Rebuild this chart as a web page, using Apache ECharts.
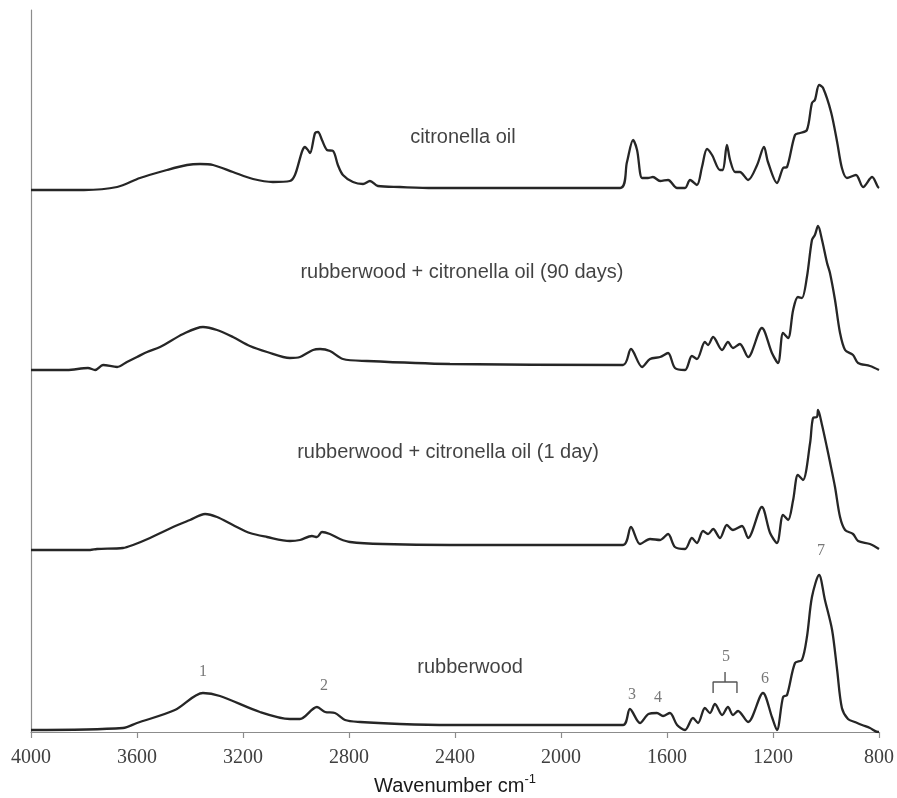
<!DOCTYPE html>
<html>
<head>
<meta charset="utf-8">
<script src="https://cdn.jsdelivr.net/npm/echarts@6/dist/echarts.min.js"></script>
<style>
  html, body { margin: 0; padding: 0; background: #fff; }
  #chart { width: 897px; height: 798px; }
</style>
</head>
<body>
<div id="chart"></div>
<script>
// ---- Data (absorbance, arbitrary units, spectra offset vertically) ----
const xTicks = [4000, 3600, 3200, 2800, 2400, 2000, 1600, 1200, 800];

const citronellaWn  = [4000,3800,3675,3589,3487,3411,3362,3313,3238,3162,3087,3023,3004,2966,2955,2947,2928,2917,2902,2883,2860,2842,2823,2785,2747,2721,2691,2608,2483,1777,1751,1728,1713,1694,1672,1653,1626,1596,1562,1532,1513,1487,1468,1449,1430,1400,1389,1374,1362,1343,1325,1294,1260,1234,1219,1185,1162,1147,1117,1098,1072,1053,1042,1026,1011,981,958,940,921,887,860,826,804,800];
const citronellaAbs = [5.42,5.42,5.45,5.54,5.62,5.67,5.68,5.67,5.60,5.53,5.50,5.51,5.57,5.85,5.82,5.79,5.99,6.00,5.92,5.82,5.81,5.67,5.57,5.50,5.48,5.51,5.46,5.45,5.44,5.44,5.70,5.92,5.82,5.54,5.54,5.55,5.51,5.52,5.44,5.44,5.52,5.47,5.65,5.83,5.77,5.62,5.62,5.87,5.72,5.60,5.60,5.52,5.67,5.85,5.70,5.49,5.64,5.65,5.97,5.99,6.02,6.29,6.32,6.47,6.44,6.20,5.90,5.64,5.54,5.57,5.45,5.55,5.45,5.44];

const rw90Wn  = [4000,3864,3785,3758,3728,3675,3638,3600,3562,3513,3426,3351,3298,3238,3174,3109,3023,2985,2936,2909,2872,2823,2732,2419,1766,1736,1694,1664,1626,1596,1570,1532,1506,1487,1457,1445,1426,1392,1370,1351,1325,1294,1242,1204,1181,1162,1143,1124,1106,1091,1072,1053,1042,1030,1015,996,985,966,947,928,898,879,834,800];
const rw90Abs = [3.62,3.62,3.64,3.62,3.67,3.65,3.70,3.75,3.80,3.85,3.98,4.05,4.02,3.95,3.86,3.80,3.74,3.75,3.82,3.83,3.81,3.73,3.71,3.68,3.67,3.83,3.65,3.73,3.75,3.79,3.64,3.62,3.76,3.73,3.90,3.87,3.95,3.82,3.90,3.84,3.88,3.75,4.04,3.79,3.69,3.99,3.94,4.22,4.35,4.34,4.55,4.92,4.97,5.06,4.92,4.69,4.59,4.32,3.99,3.82,3.77,3.69,3.66,3.62];

const rw1Wn  = [4000,3777,3751,3653,3615,3551,3464,3400,3343,3298,3238,3174,3109,3023,2985,2940,2921,2902,2872,2834,2796,2672,2419,1766,1736,1702,1664,1626,1596,1570,1532,1506,1487,1464,1445,1426,1400,1374,1351,1317,1294,1242,1211,1185,1162,1143,1124,1106,1087,1060,1049,1034,1030,1015,996,985,966,947,928,898,879,834,800];
const rw1Abs = [1.82,1.82,1.83,1.84,1.87,1.94,2.05,2.12,2.18,2.15,2.07,1.99,1.95,1.91,1.92,1.96,1.95,2.00,1.98,1.93,1.90,1.88,1.87,1.87,2.05,1.88,1.93,1.92,1.98,1.85,1.83,1.94,1.89,2.01,1.98,2.03,1.94,2.07,2.02,2.06,1.94,2.25,1.99,1.89,2.17,2.12,2.32,2.57,2.52,2.89,3.14,3.15,3.22,3.07,2.84,2.70,2.45,2.15,2.02,1.98,1.91,1.88,1.83];

const rwWn  = [4000,3653,3600,3457,3351,3287,3136,3023,2985,2921,2890,2853,2815,2758,2608,2419,1766,1740,1702,1670,1638,1615,1589,1562,1532,1502,1483,1457,1438,1419,1392,1370,1351,1332,1294,1238,1204,1185,1162,1147,1117,1091,1072,1053,1026,1004,977,958,940,917,891,864,834,804,800];
const rwAbs = [0.02,0.04,0.09,0.22,0.39,0.36,0.20,0.13,0.13,0.25,0.20,0.19,0.12,0.10,0.08,0.07,0.07,0.23,0.09,0.18,0.19,0.16,0.19,0.07,0.02,0.14,0.09,0.24,0.19,0.28,0.17,0.25,0.17,0.21,0.10,0.39,0.15,0.02,0.35,0.37,0.69,0.72,0.95,1.35,1.57,1.32,1.02,0.62,0.24,0.13,0.10,0.07,0.04,0.00,0.00];

// spectrum name labels
const spectrumNames = ['citronella oil', 'rubberwood + citronella oil (90 days)', 'rubberwood + citronella oil (1 day)', 'rubberwood'];
const spectrumNameWn = [2370, 2374, 2426, 2343];
const spectrumNameY  = [5.95, 4.60, 2.80, 0.65];

// band numbers on rubberwood spectrum
const bandLabels = ['1', '2', '3', '4', '5', '6', '7'];
const bandWn     = [3351, 2894, 1732, 1634, 1377, 1230, 1019];
const bandY      = [0.60, 0.46, 0.37, 0.34, 0.75, 0.53, 1.81];

// bracket for band group 5
const bracketWn = [1426, 1426, 1381, 1381, 1381, 1336, 1336];
const bracketY  = [0.39, 0.50, 0.50, 0.60, 0.50, 0.50, 0.39];

// ---- Build series ----
const zip = (a, b) => a.map((v, i) => [v, b[i]]);
const lineStyle = { color: '#262626', width: 2.3 };
function spectrum(name, wn, ab) {
  return {
    name: name, type: 'line', data: zip(wn, ab), showSymbol: false, symbol: 'none',
    smooth: 0.3, lineStyle: lineStyle, silent: true, z: 3
  };
}

const chart = echarts.init(document.getElementById('chart'), null, { renderer: 'canvas' });
chart.setOption({
  animation: false,
  backgroundColor: '#ffffff',
  grid: { left: 31, right: 18, top: 10, bottom: 66, containLabel: false, outerBoundsMode: 'none' },
  xAxis: {
    type: 'value', inverse: true, min: 800, max: 4000, interval: 400,
    axisLine: { show: true, lineStyle: { color: '#8c8c8c', width: 1.2 } },
    axisTick: { show: true, inside: false, length: 6, lineStyle: { color: '#8c8c8c', width: 1.2 } },
    axisLabel: {
      show: true, margin: 16, color: '#404040', fontFamily: '"Liberation Serif", "DejaVu Serif", serif', fontSize: 20,
      formatter: v => xTicks.indexOf(v) >= 0 ? String(v) : ''
    },
    splitLine: { show: false },
    name: '{a|Wavenumber cm}{b|-1}',
    nameLocation: 'middle', nameGap: 33,
    nameTextStyle: {
      rich: {
        a: { fontFamily: '"Liberation Sans", Arial, sans-serif', fontSize: 20, color: '#1a1a1a', verticalAlign: 'bottom', lineHeight: 24 },
        b: { fontFamily: '"Liberation Sans", Arial, sans-serif', fontSize: 13, color: '#1a1a1a', verticalAlign: 'top', lineHeight: 24, padding: [0, 0, 10, 0] }
      }
    }
  },
  yAxis: {
    type: 'value', min: 0, max: 7.22,
    axisLine: { show: true, lineStyle: { color: '#8c8c8c', width: 1.2 } },
    axisTick: { show: false }, axisLabel: { show: false }, splitLine: { show: false }
  },
  series: [
    spectrum('citronella oil', citronellaWn, citronellaAbs),
    spectrum('rubberwood + citronella oil (90 days)', rw90Wn, rw90Abs),
    spectrum('rubberwood + citronella oil (1 day)', rw1Wn, rw1Abs),
    spectrum('rubberwood', rwWn, rwAbs),
    {
      type: 'line', data: zip(bracketWn, bracketY), symbol: 'none', smooth: false, silent: true,
      lineStyle: { color: '#555', width: 1.4 }
    },
    {
      type: 'scatter', symbolSize: 0, silent: true,
      data: spectrumNames.map((n, i) => ({ value: [spectrumNameWn[i], spectrumNameY[i]], name: n })),
      label: {
        show: true, position: 'inside', formatter: p => p.name,
        fontFamily: '"Liberation Sans", Arial, sans-serif', fontSize: 20, color: '#111'
      }
    },
    {
      type: 'scatter', symbolSize: 0, silent: true,
      data: bandLabels.map((n, i) => ({ value: [bandWn[i], bandY[i]], name: n })),
      label: {
        show: true, position: 'inside', formatter: p => p.name,
        fontFamily: '"Liberation Serif", "DejaVu Serif", serif', fontSize: 16, color: '#555'
      }
    }
  ]
});
</script>
</body>
</html>
